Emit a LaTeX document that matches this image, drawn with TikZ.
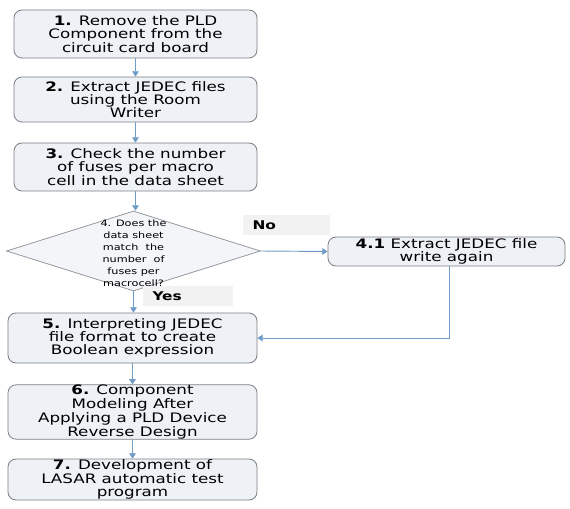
\documentclass[tikz,border=0pt]{standalone}
\usepackage{fontspec}
\setmainfont{DejaVu Sans}[FakeStretch=1.28]
\usetikzlibrary{shapes.geometric,arrows.meta}
\definecolor{boxfill}{HTML}{EEF1F5}
\definecolor{boxline}{HTML}{7A7F86}
\definecolor{arr}{HTML}{6F9CC6}
\definecolor{lblfill}{HTML}{F2F2F2}
\begin{document}
\begin{tikzpicture}[x=0.75pt,y=-0.75pt,
  stepbox/.style={draw=boxline,fill=boxfill,rounded corners=6pt,line width=0.6pt,
    align=center,font=\fontsize{9.8}{10}\selectfont,inner sep=0pt,
    minimum width=#1*0.75pt},
  dia/.style={diamond,draw=boxline!80,fill=boxfill!70,line width=0.6pt,inner sep=0pt,
    minimum width=254*0.75pt,minimum height=80*0.75pt},
  lbl/.style={fill=lblfill,inner sep=0pt,minimum width=87*0.75pt,minimum height=20*0.75pt,
    text width=87*0.75pt-19*0.75pt,align=left,font=\fontsize{9}{10}\selectfont\bfseries},
  conn/.style={draw=arr,line width=0.7pt,-{Triangle[width=5pt,length=4pt]}}]
\fill[white] (0,0) rectangle (570,509);
\node[stepbox=243,minimum height=48*0.75pt] (b1) at (135.5,34) {\textbf{1.} Remove the PLD\\Component from the\\circuit card board};
\node[stepbox=243,minimum height=45*0.75pt] (b2) at (135.5,99.5) {\textbf{2.} Extract JEDEC files\\using the Room\\Writer};
\node[stepbox=243,minimum height=48*0.75pt] (b3) at (135.5,167) {\textbf{3.} Check the number\\of fuses per macro\\cell in the data sheet};
\node[dia] (d) at (133.5,251) {};
\node[align=center,font=\fontsize{6.6}{9}\selectfont,inner sep=0pt] (dt) at (133.5,253) {4. Does the\\data sheet\\match\ \ the\\number\ \ of\\fuses per\\macrocell?};
\node[stepbox=237,minimum height=29*0.75pt] (b41) at (446.5,251.5) {\textbf{4.1} Extract JEDEC file\\write again};
\node[stepbox=249,minimum height=50*0.75pt] (b5) at (132.5,338) {\textbf{5.} Interpreting JEDEC\\file format to create\\Boolean expression};
\node[stepbox=249,minimum height=52*0.75pt,font=\fontsize{9.8}{9.4}\selectfont] (b6) at (132.5,412) {\textbf{6.} Component\\Modeling After\\Applying a PLD Device\\Reverse Design};
\node[stepbox=249,minimum height=41*0.75pt] (b7) at (132.5,479.5) {\textbf{7.} Development of\\LASAR automatic test\\program};
\node[lbl] (no) at (286.5,225) {No};
\node[lbl,minimum width=90*0.75pt,text width=71*0.75pt] (yes) at (188,296) {Yes};
\draw[conn] (b1.south) -- (b1.south |- b2.north);
\draw[conn] (b2.south) -- (b2.south |- b3.north);
\draw[conn] (b3.south) -- (b3.south |- d.north);
\draw[conn] (d.south) -- (d.south |- b5.north);
\draw[conn] (d.east) -- (b41.west);
\draw[conn] ([xshift=3*0.75pt]b41.south) |- (b5.east);
\draw[conn] (b5.south) -- (b5.south |- b6.north);
\draw[conn] (b6.south) -- (b6.south |- b7.north);
\end{tikzpicture}
\end{document}
